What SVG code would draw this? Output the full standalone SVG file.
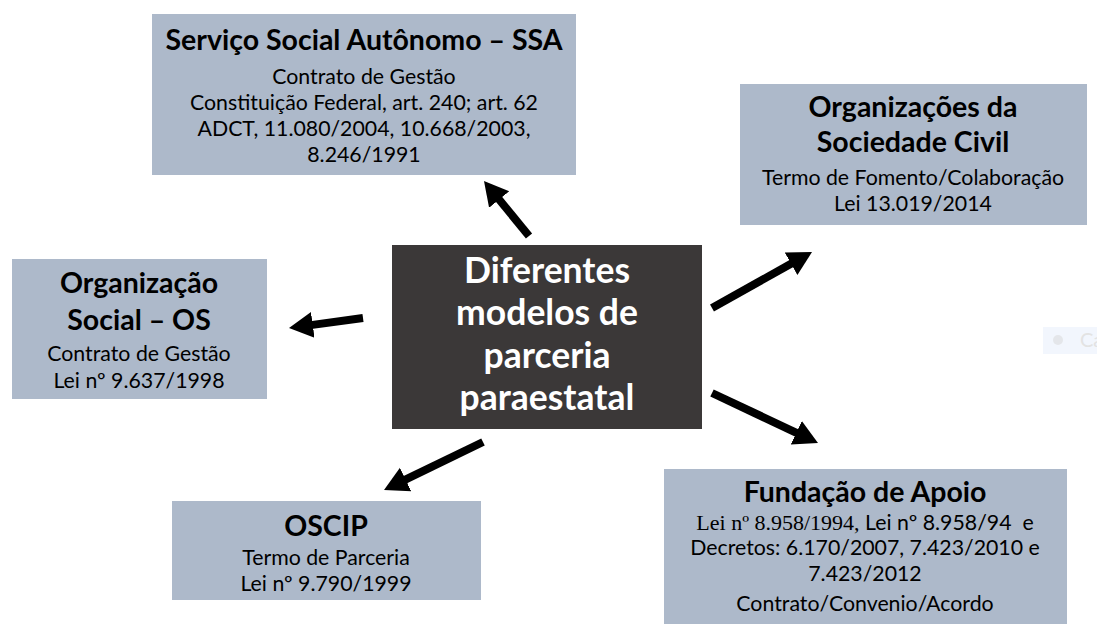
<svg xmlns="http://www.w3.org/2000/svg" width="1097" height="624" viewBox="0 0 1097 624">
<style>
.box{fill:#ADB9CA;}
.center{fill:#3B3838;}
text{font-family:Lato,"Open Sans","Liberation Sans",sans-serif;text-anchor:middle;fill:#000;}
.t{font-weight:bold;font-size:28.5px;}
.s{font-size:21.3px;}
.c{font-weight:bold;font-size:35.5px;fill:#fff;}
.serif{font-family:"Liberation Serif",serif;font-size:22px;}
.conn line{stroke:#000;stroke-width:8;marker-end:url(#ah);}
</style>
<defs>
<marker id="ah" markerUnits="userSpaceOnUse" viewBox="0 -15 30 30" markerWidth="30" markerHeight="30" refX="2" refY="0" orient="auto">
<path d="M0,-13 L24,0 L0,13 Z" fill="#000"/>
</marker>
</defs>
<rect width="1097" height="624" fill="#fff"/>
<g id="ghost" opacity="0.9">
<rect x="1043" y="327" width="54" height="27" fill="#F1F6FD"/>
<circle cx="1058" cy="340" r="5" fill="#E2E4E8"/>
<text x="1080" y="347" style="font-size:20px;fill:#E0E0E0;text-anchor:start">Ca</text>
</g>
<g id="ssa">
<rect class="box" x="152" y="14" width="424" height="161"/>
<text class="t" x="364" y="50">Serviço Social Autônomo – SSA</text>
<text class="s" x="364" y="84">Contrato de Gestão</text>
<text class="s" x="364" y="110">Constituição Federal, art. 240; art. 62</text>
<text class="s" x="364" y="136">ADCT, 11.080/2004, 10.668/2003,</text>
<text class="s" x="364" y="162">8.246/1991</text>
</g>
<g id="osc">
<rect class="box" x="740" y="84" width="347" height="141"/>
<text class="t" x="913" y="117">Organizações da</text>
<text class="t" x="913" y="152">Sociedade Civil</text>
<text class="s" x="913" y="185">Termo de Fomento/Colaboração</text>
<text class="s" x="913" y="211">Lei 13.019/2014</text>
</g>
<g id="os">
<rect class="box" x="12" y="259" width="255" height="140"/>
<text class="t" x="139" y="293">Organização</text>
<text class="t" x="139" y="330">Social – OS</text>
<text class="s" x="139" y="361">Contrato de Gestão</text>
<text class="s" x="139" y="388">Lei nº 9.637/1998</text>
</g>
<g id="center">
<rect class="center" x="392" y="245" width="310" height="184"/>
<text class="c" x="547" y="283">Diferentes</text>
<text class="c" x="547" y="325">modelos de</text>
<text class="c" x="547" y="368">parceria</text>
<text class="c" x="547" y="410">paraestatal</text>
</g>
<g id="oscip">
<rect class="box" x="172" y="501" width="309" height="99"/>
<text class="t" x="326" y="536">OSCIP</text>
<text class="s" x="326" y="565">Termo de Parceria</text>
<text class="s" x="326" y="591">Lei nº 9.790/1999</text>
</g>
<g id="fundacao">
<rect class="box" x="664" y="469" width="403" height="160"/>
<text class="t" x="865" y="502">Fundação de Apoio</text>
<text class="s" x="865" y="530"><tspan class="serif">Lei nº 8.958/1994,</tspan> Lei nº 8.958/94&#160; e</text>
<text class="s" x="865" y="555">Decretos: 6.170/2007, 7.423/2010 e</text>
<text class="s" x="865" y="581">7.423/2012</text>
<text class="s" x="865" y="611">Contrato/Convenio/Acordo</text>
</g>
<g id="connectors" class="conn">
<line x1="529" y1="236" x2="497.9" y2="198"/>
<line x1="363" y1="318" x2="310.8" y2="325.1"/>
<line x1="712" y1="308" x2="792.8" y2="262.8"/>
<line x1="712" y1="393" x2="798.1" y2="433.6"/>
<line x1="483" y1="442" x2="403.8" y2="480.4"/>
</g>
</svg>
